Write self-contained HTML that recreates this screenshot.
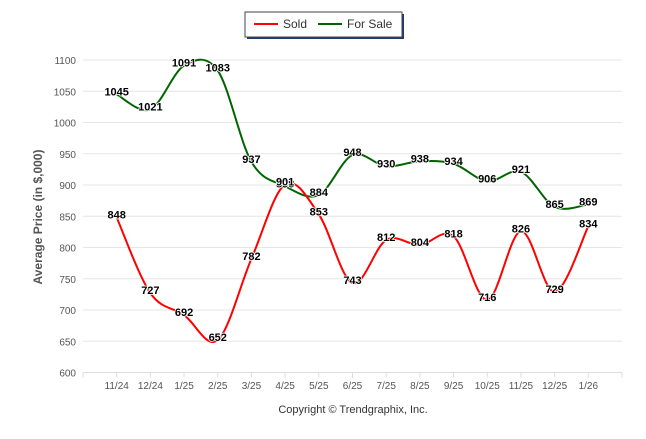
<!DOCTYPE html>
<html><head><meta charset="utf-8"><style>
body{margin:0;background:#fff;font-family:"Liberation Sans",sans-serif}
</style></head><body>
<svg id="c" width="646" height="434" xmlns="http://www.w3.org/2000/svg"></svg>
<script>
const categories=["11/24","12/24","1/25","2/25","3/25","4/25","5/25","6/25","7/25","8/25","9/25","10/25","11/25","12/25","1/26"];
const soldValues=[848,727,692,652,782,901,853,743,812,804,818,716,826,729,834];
const forSaleValues=[1045,1021,1091,1083,937,898,884,948,930,938,934,906,921,865,869];
const yTicks=[600,650,700,750,800,850,900,950,1000,1050,1100];
const svg=document.getElementById('c');const NS='http://www.w3.org/2000/svg';
const x0=83,x1=622,band=(x1-x0)/16;
const X=i=>x0+band*(i+1);
const Y=v=>372.5-(v-600)*0.625;
function el(t,a,p){const e=document.createElementNS(NS,t);for(const k in a)e.setAttribute(k,a[k]);(p||svg).appendChild(e);return e;}
yTicks.forEach(v=>{
 const g=el('line',{x1:x0,x2:x1,y1:Y(v),y2:Y(v),stroke:'#e6e6e6','stroke-width':1});
 
 
 const t=el('text',{x:76,y:Y(v)+4,'text-anchor':'end','font-size':10,fill:'#555'});t.textContent=v;
 
 
});
const ax=el('line',{x1:x0,x2:x1,y1:Y(600),y2:Y(600),stroke:'#ddd'});


for(let i=0;i<=16;i++){el('line',{x1:x0+band*i,x2:x0+band*i,y1:Y(600),y2:Y(600)+5,stroke:'#ddd'});}
categories.forEach((c,i)=>{const t=el('text',{x:X(i),y:389,'text-anchor':'middle','font-size':10,fill:'#555'});t.textContent=c;
 
 });
const yt=el('text',{x:0,y:0,transform:'translate(42,217) rotate(-90)','text-anchor':'middle','font-size':12,'font-weight':'bold',fill:'#555'});yt.textContent='Average Price (in $,000)';


const cp=el('text',{x:353,y:413,'text-anchor':'middle','font-size':11,fill:'#333'});cp.textContent='Copyright © Trendgraphix, Inc.';


function spline(vals){const p=vals.map((v,i)=>[X(i),Y(v)]);let d='M'+p[0][0]+','+p[0][1];
 for(let i=1;i<p.length;i++){const a=p[i-2]||p[i-1],b=p[i-1],c=p[i],n=p[i+1]||c;
  const t1x=b[0]+(c[0]-a[0])/6,t1y=b[1]+(c[1]-a[1])/6,t2x=c[0]-(n[0]-b[0])/6,t2y=c[1]-(n[1]-b[1])/6;
  d+=` C${t1x},${t1y} ${t2x},${t2y} ${c[0]},${c[1]}`;}return d;}
const ls=el('path',{d:spline(forSaleValues),fill:'none',stroke:'#006400','stroke-width':2});


const lr=el('path',{d:spline(soldValues),fill:'none',stroke:'#ff0000','stroke-width':2});


function labels(vals,name){vals.forEach((v,i)=>{const t=el('text',{x:X(i),y:Y(v)+1,'text-anchor':'middle','font-size':11,'font-weight':'bold',fill:'#000',stroke:'#fff','stroke-width':1.5,'paint-order':'stroke'});t.textContent=v;
 
 });}
labels(forSaleValues,'for-sale');labels(soldValues,'sold');
const lg=el('g',{});


el('rect',{x:247,y:14,width:157,height:25,fill:'#1f3a6e'},lg);
el('rect',{x:245,y:12,width:157,height:25,fill:'#fff',stroke:'#444'},lg);
el('line',{x1:254,x2:278,y1:24,y2:24,stroke:'#ff0000','stroke-width':2},lg);
const l1=el('text',{x:283,y:28,'font-size':12,fill:'#333'},lg);l1.textContent='Sold';


el('line',{x1:318,x2:342,y1:24,y2:24,stroke:'#006400','stroke-width':2},lg);
const l2=el('text',{x:347,y:28,'font-size':12,fill:'#333'},lg);l2.textContent='For Sale';


</script>
</body></html>
